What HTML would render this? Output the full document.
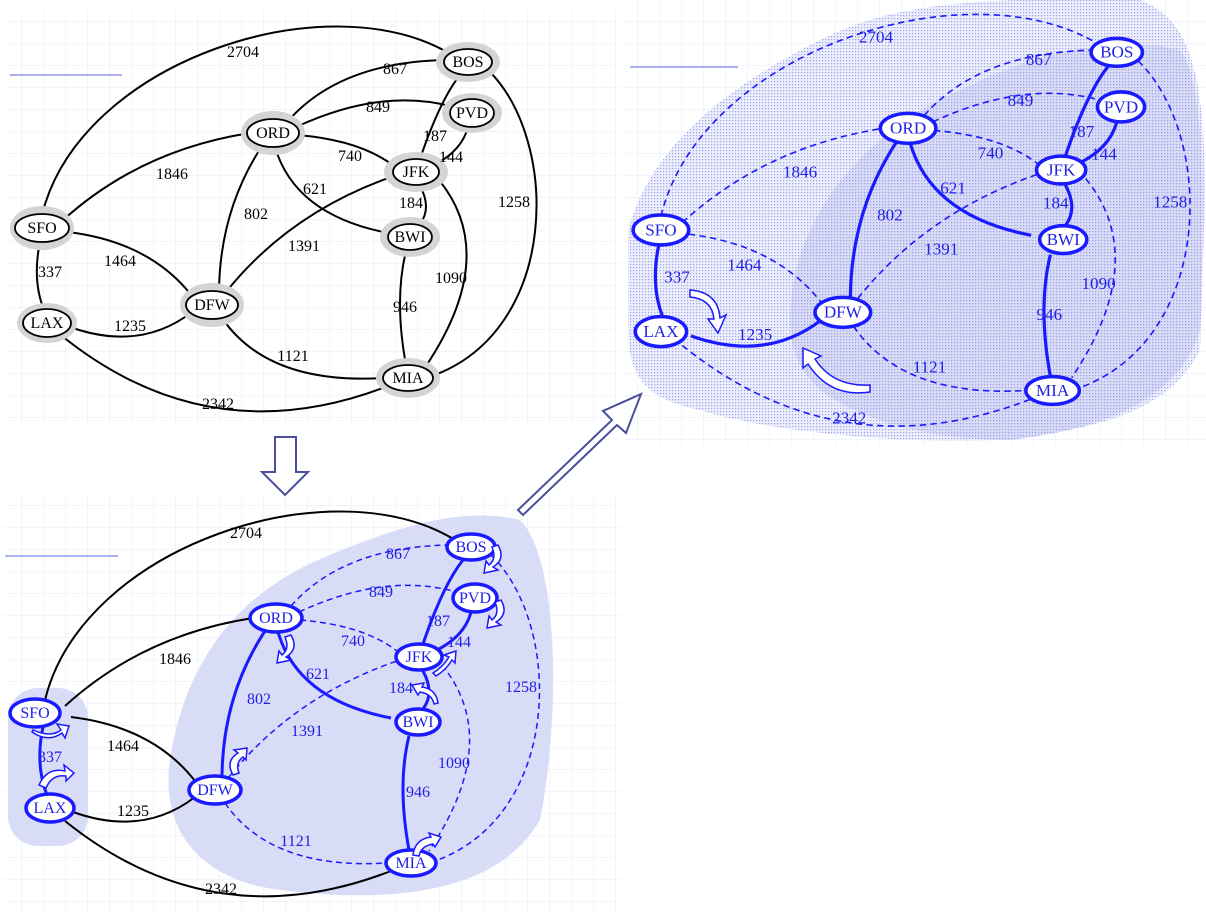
<!DOCTYPE html>
<html><head><meta charset="utf-8"><style>
html,body{margin:0;padding:0;background:#fff}
svg{display:block}
text{font-family:"Liberation Serif",serif;font-size:16px}
.k{fill:#000}.b{fill:#1f1fe6}
</style></head><body>
<svg width="1206" height="917" viewBox="0 0 1206 917" xmlns="http://www.w3.org/2000/svg">
<defs>
<pattern id="grid" width="22" height="22" patternUnits="userSpaceOnUse">
<path d="M22 0V22M0 22H22" stroke="#e6e9fb" stroke-width="1" fill="none"/>
</pattern>
<pattern id="dots" width="3" height="3" patternUnits="userSpaceOnUse">
<rect width="3" height="3" fill="#eceefc"/><rect width="1.2" height="1.2" fill="#9ca2ee"/>
</pattern>
<pattern id="dots2" width="3" height="3" patternUnits="userSpaceOnUse">
<rect width="3" height="3" fill="#d8dbf6"/><rect width="1.2" height="1.2" fill="#9aa0e8"/>
</pattern>
<g id="e_sfobos"><path d="M42 215 C 80 60, 330 -20, 452 55"/></g>
<g id="e_ordbos"><path d="M288 121 Q 340 62 446 60"/></g>
<g id="e_ordpvd"><path d="M296 127 Q 380 88 450 106"/></g>
<g id="e_ordjfk"><path d="M297 135 Q 360 140 394 166"/></g>
<g id="e_ordbwi"><path d="M275 147 Q 295 215 388 233"/></g>
<g id="e_orddfw"><path d="M262 146 Q 220 210 219 291"/></g>
<g id="e_sfoord"><path d="M62 221 Q 140 150 250 133"/></g>
<g id="e_sfodfw"><path d="M68 232 Q 150 242 192 296"/></g>
<g id="e_sfolax"><path d="M40 242 Q 32 280 44 310"/></g>
<g id="e_laxdfw"><path d="M70 327 Q 140 352 192 312"/></g>
<g id="e_laxmia"><path d="M62 336 Q 210 455 388 386"/></g>
<g id="e_dfwjfk"><path d="M226 292 Q 290 212 394 176"/></g>
<g id="e_dfwmia"><path d="M222 318 Q 268 385 384 378"/></g>
<g id="e_jfkbos"><path d="M420 159 Q 440 100 460 75"/></g>
<g id="e_jfkpvd"><path d="M436 164 Q 462 150 468 127"/></g>
<g id="e_jfkbwi"><path d="M420 186 Q 432 208 420 224"/></g>
<g id="e_jfkmia"><path d="M439 180 Q 500 255 426 366"/></g>
<g id="e_bosmia"><path d="M488 70 C 560 140, 560 330, 432 376"/></g>
<g id="e_bwimia"><path d="M406 251 Q 394 300 406 365"/></g>
</defs>

<rect x="8" y="12" width="612" height="412" fill="url(#grid)"/>
<rect x="4" y="495" width="616" height="418" fill="url(#grid)"/>
<rect x="625" y="0" width="581" height="445" fill="url(#grid)"/>
<line x1="10" y1="75" x2="122" y2="75" stroke="#8f97ee" stroke-width="1.5"/>
<line x1="630" y1="67" x2="738" y2="67" stroke="#8f97ee" stroke-width="1.5"/>
<line x1="5" y1="556" x2="118" y2="556" stroke="#8f97ee" stroke-width="1.5"/>

<!-- ============ GRAPH 1 ============ -->
<g fill="none" stroke="#000" stroke-width="2">
<use href="#e_sfobos"/><use href="#e_ordbos"/><use href="#e_ordpvd"/><use href="#e_ordjfk"/><use href="#e_ordbwi"/><use href="#e_orddfw"/><use href="#e_sfoord"/><use href="#e_sfodfw"/><use href="#e_sfolax"/><use href="#e_laxdfw"/><use href="#e_laxmia"/><use href="#e_dfwjfk"/><use href="#e_dfwmia"/><use href="#e_jfkbos"/><use href="#e_jfkpvd"/><use href="#e_jfkbwi"/><use href="#e_jfkmia"/><use href="#e_bosmia"/><use href="#e_bwimia"/>
</g>
<g fill="#d4d4d4">
<ellipse cx="468" cy="62" rx="32" ry="20"/><ellipse cx="472" cy="113" rx="30" ry="20"/><ellipse cx="273" cy="133" rx="32" ry="22"/><ellipse cx="416" cy="172" rx="32" ry="20"/><ellipse cx="42" cy="228" rx="32" ry="22"/><ellipse cx="410" cy="237" rx="30" ry="20"/><ellipse cx="212" cy="305" rx="32" ry="22"/><ellipse cx="47" cy="323" rx="30" ry="20"/><ellipse cx="408" cy="378" rx="32" ry="20"/>
</g>
<g fill="#fff" stroke="#000" stroke-width="1.8">
<ellipse cx="468" cy="62" rx="24" ry="13"/><ellipse cx="472" cy="113" rx="22" ry="14"/><ellipse cx="273" cy="133" rx="26" ry="14"/><ellipse cx="416" cy="172" rx="23" ry="13"/><ellipse cx="42" cy="228" rx="27" ry="14"/><ellipse cx="410" cy="237" rx="22" ry="13"/><ellipse cx="212" cy="305" rx="26" ry="14"/><ellipse cx="47" cy="323" rx="24" ry="14"/><ellipse cx="408" cy="378" rx="25" ry="13"/>
</g>
<g class="k" text-anchor="middle">
<text x="468" y="67">BOS</text><text x="472" y="118">PVD</text><text x="273" y="138">ORD</text><text x="416" y="177">JFK</text><text x="42" y="233">SFO</text><text x="410" y="242">BWI</text><text x="212" y="310">DFW</text><text x="47" y="328">LAX</text><text x="408" y="383">MIA</text>
<text x="243" y="57">2704</text><text x="395" y="74">867</text><text x="378" y="112">849</text><text x="350" y="161">740</text><text x="315" y="194">621</text><text x="256" y="219">802</text><text x="172" y="179">1846</text><text x="120" y="266">1464</text><text x="50" y="277">337</text><text x="130" y="331">1235</text><text x="218" y="409">2342</text><text x="304" y="251">1391</text><text x="293" y="361">1121</text><text x="435" y="141">187</text><text x="451" y="162">144</text><text x="411" y="208">184</text><text x="451" y="283">1090</text><text x="514" y="207">1258</text><text x="405" y="312">946</text>
</g>

<!-- big arrows -->
<path d="M275 437 H296 V472 H308 L285 495 L262 472 H275 Z" fill="#fff" stroke="#4a4f9c" stroke-width="2"/>
<path d="M518 510 L612 420 L603 411 L641 394 L626 433 L617 425 L523 515 Z" fill="#fff" stroke="#4a4f9c" stroke-width="2"/>

<!-- ============ GRAPH 2 ============ -->
<path d="M170 760 C 185 660, 240 590, 330 555 C 390 530, 460 505, 520 520 C 560 560, 560 720, 540 820 C 500 890, 400 905, 280 890 C 200 880, 160 830, 170 760 Z" fill="#d9dcf7"/>
<rect x="8" y="688" width="80" height="158" rx="30" fill="#d9dcf7"/>
<g transform="translate(3,485)">
<g fill="none" stroke="#000" stroke-width="2">
<use href="#e_sfobos"/><use href="#e_sfoord"/><use href="#e_sfodfw"/><use href="#e_laxdfw"/><use href="#e_laxmia"/>
</g>
<g fill="none" stroke="#1a1aff" stroke-width="3">
<use href="#e_sfolax"/><use href="#e_orddfw"/><use href="#e_ordbwi"/><use href="#e_jfkbos"/><use href="#e_jfkpvd"/><use href="#e_jfkbwi"/><use href="#e_bwimia"/>
</g>
<g fill="none" stroke="#1a1aff" stroke-width="1.5" stroke-dasharray="6 4">
<use href="#e_ordbos"/><use href="#e_ordpvd"/><use href="#e_ordjfk"/><use href="#e_dfwjfk"/><use href="#e_dfwmia"/><use href="#e_jfkmia"/><use href="#e_bosmia"/>
</g>
<g fill="#fff" stroke="#1a1aff" stroke-width="3.5">
<ellipse cx="468" cy="62" rx="24" ry="13"/><ellipse cx="472" cy="113" rx="22" ry="14"/><ellipse cx="273" cy="133" rx="26" ry="14"/><ellipse cx="416" cy="172" rx="23" ry="13"/><ellipse cx="32" cy="228" rx="25" ry="14"/><ellipse cx="415" cy="237" rx="22" ry="13"/><ellipse cx="212" cy="305" rx="26" ry="14"/><ellipse cx="47" cy="323" rx="24" ry="14"/><ellipse cx="408" cy="378" rx="25" ry="13"/>
</g>
<g class="b" text-anchor="middle">
<text x="468" y="67">BOS</text><text x="472" y="118">PVD</text><text x="273" y="138">ORD</text><text x="416" y="177">JFK</text><text x="32" y="233">SFO</text><text x="415" y="242">BWI</text><text x="212" y="310">DFW</text><text x="47" y="328">LAX</text><text x="408" y="383">MIA</text>
<text x="395" y="74">867</text><text x="378" y="112">849</text><text x="350" y="161">740</text><text x="315" y="194">621</text><text x="256" y="219">802</text><text x="47" y="277">337</text><text x="304" y="251">1391</text><text x="293" y="361">1121</text><text x="435" y="141">187</text><text x="456" y="162">144</text><text x="398" y="208">184</text><text x="451" y="283">1090</text><text x="518" y="207">1258</text><text x="415" y="312">946</text>
</g>
<g class="k" text-anchor="middle">
<text x="243" y="53">2704</text><text x="172" y="179">1846</text><text x="120" y="266">1464</text><text x="130" y="331">1235</text><text x="218" y="409">2342</text>
</g>
<g fill="#fff" stroke="#1a1aff" stroke-width="1.5">
<path d="M30 245 q 18 8 28 0 l -4 -6 l 12 2 l -4 12 l -3 -5 q -14 10 -30 -1 z"/>
<path d="M36 300 q 8 -18 26 -14 l -1 -6 l 10 8 l -8 8 l 0 -5 q -14 -2 -20 12 z"/>
<path d="M288 150 q 8 14 -5 22 l 5 3 l -14 3 l 2 -12 l 3 4 q 8 -6 3 -18 z"/>
<path d="M230 290 q -8 -14 5 -22 l -4 -3 l 13 -2 l -1 12 l -3 -3 q -8 6 -4 16 z"/>
<path d="M495 60 q 8 14 -5 22 l 5 3 l -14 3 l 2 -12 l 3 4 q 8 -6 3 -18 z"/>
<path d="M498 115 q 8 14 -5 22 l 5 3 l -14 3 l 2 -12 l 3 4 q 8 -6 3 -18 z"/>
<path d="M430 188 q 10 -6 16 -16 l -5 -2 l 12 -4 l -1 12 l -3 -3 q -6 10 -16 16 z"/>
<path d="M435 218 q -2 -14 -16 -16 l 2 -4 l -12 2 l 6 10 l 2 -3 q 12 2 14 12 z"/>
<path d="M410 370 q 2 -16 18 -18 l -2 -4 l 12 4 l -6 10 l -2 -3 q -12 2 -14 12 z"/>
</g>
</g>

<!-- ============ GRAPH 3 ============ -->
<path d="M628 230 C 650 150, 720 90, 820 40 C 880 10, 950 -5, 1140 0 C 1190 20, 1205 70, 1205 200 L 1200 350 C 1170 410, 1100 430, 1000 440 C 900 445, 760 430, 700 410 C 650 400, 628 380, 628 330 Z" fill="url(#dots)"/>
<path d="M790 320 C 790 230, 850 140, 960 90 C 1040 50, 1120 35, 1180 50 C 1205 80, 1205 200, 1200 330 C 1180 400, 1100 430, 1010 440 C 930 440, 860 420, 820 390 C 800 370, 790 350, 790 320 Z" fill="url(#dots2)"/>
<g transform="translate(616,-14) scale(1.07)">
<g fill="none" stroke="#1a1aff" stroke-width="3">
<use href="#e_sfolax"/><use href="#e_laxdfw"/><use href="#e_orddfw"/><use href="#e_ordbwi"/><use href="#e_jfkbos"/><use href="#e_jfkpvd"/><use href="#e_jfkbwi"/><use href="#e_bwimia"/>
</g>
<g fill="none" stroke="#1a1aff" stroke-width="1.5" stroke-dasharray="6 4">
<use href="#e_sfobos"/><use href="#e_ordbos"/><use href="#e_ordpvd"/><use href="#e_ordjfk"/><use href="#e_sfoord"/><use href="#e_sfodfw"/><use href="#e_laxmia"/><use href="#e_dfwjfk"/><use href="#e_dfwmia"/><use href="#e_jfkmia"/><use href="#e_bosmia"/>
</g>
<g fill="#fff" stroke="#1a1aff" stroke-width="3.3">
<ellipse cx="468" cy="62" rx="24" ry="13"/><ellipse cx="472" cy="113" rx="22" ry="14"/><ellipse cx="273" cy="133" rx="26" ry="14"/><ellipse cx="416" cy="172" rx="23" ry="13"/><ellipse cx="42" cy="228" rx="26" ry="14"/><ellipse cx="418" cy="237" rx="22" ry="13"/><ellipse cx="212" cy="305" rx="26" ry="14"/><ellipse cx="42" cy="323" rx="24" ry="14"/><ellipse cx="408" cy="378" rx="25" ry="13"/>
</g>
<g class="b" text-anchor="middle">
<text x="468" y="67">BOS</text><text x="472" y="118">PVD</text><text x="273" y="138">ORD</text><text x="416" y="177">JFK</text><text x="42" y="233">SFO</text><text x="418" y="242">BWI</text><text x="212" y="310">DFW</text><text x="42" y="328">LAX</text><text x="408" y="383">MIA</text>
<text x="243" y="53">2704</text><text x="395" y="74">867</text><text x="378" y="112">849</text><text x="350" y="161">740</text><text x="315" y="194">621</text><text x="256" y="219">802</text><text x="172" y="179">1846</text><text x="120" y="266">1464</text><text x="57" y="277">337</text><text x="130" y="331">1235</text><text x="218" y="409">2342</text><text x="304" y="251">1391</text><text x="293" y="361">1121</text><text x="435" y="141">187</text><text x="456" y="162">144</text><text x="411" y="208">184</text><text x="451" y="283">1090</text><text x="518" y="207">1258</text><text x="405" y="312">946</text>
</g>
</g>
<g fill="#fff" stroke="#1a1aff" stroke-width="1.5">
<path d="M690 290 q 28 2 30 28 l 6 -3 l -8 18 l -10 -14 l 6 0 q -2 -20 -24 -22 z"/>
<path d="M870 392 q -40 6 -62 -28 l -5 4 l 0 -20 l 18 8 l -6 3 q 18 28 55 26 z"/>
</g>
</svg>
</body></html>
